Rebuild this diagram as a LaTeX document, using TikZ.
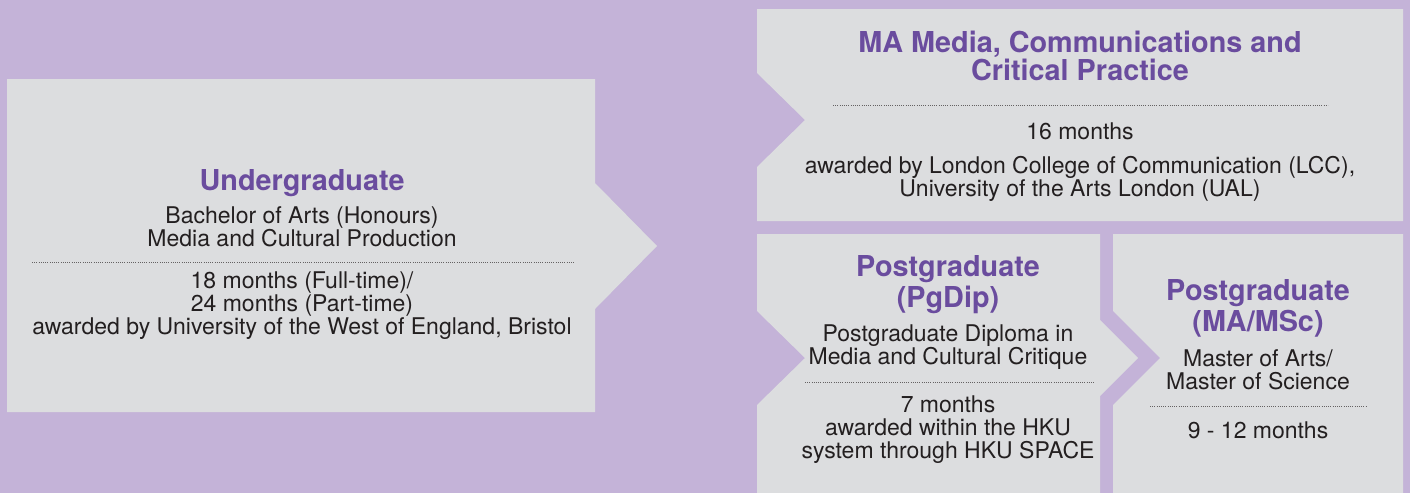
\documentclass[tikz,border=0pt]{standalone}
\usepackage{fontspec}
\setmainfont{TeX Gyre Heros}
\usepackage{tikz}
\usetikzlibrary{positioning}

\definecolor{bgpurple}{HTML}{C4B3D8}
\definecolor{boxgray}{HTML}{DCDDDF}
\definecolor{headpurple}{HTML}{6A4C9E}
\definecolor{textdark}{HTML}{231F20}

\begin{document}
\begin{tikzpicture}[x=0.5pt, y=-0.5pt]
			% Define style
			\tikzset{
				panel/.style={fill=boxgray, draw=none},
				heading/.style={font=\bfseries\fontsize{14.4}{15.5}\selectfont, text=headpurple, align=center, inner sep=0pt},
				body/.style={font=\fontsize{11.5}{11.5}\selectfont, text=textdark, align=center, inner sep=0pt},
				dotline/.style={line width=0.5pt, dash pattern=on 0.5pt off 0.6pt, draw=textdark!70}
			}
			
			% Define background
			\fill [bgpurple] (0,0) rectangle (1410,493);
			\useasboundingbox (0,0) rectangle (1410,493);
			
			% Define panels
			\fill [panel] (7,79) -- (595,79) -- (595,183) -- (657,246) -- (595,309) -- (595,412) -- (7,412) -- cycle;
			\fill [panel] (757,9) -- (1403,9) -- (1403,221) -- (757,221) -- (757,167) -- (805,120) -- (757,73) -- cycle;
			\fill [panel] (757,234) -- (1100,234) -- (1100,320) -- (1138,358) -- (1100,396) -- (1100,493) -- (757,493) -- (757,405) -- (805,358) -- (757,311) -- cycle;
			\fill [panel] (1113,234) -- (1403,234) -- (1403,493) -- (1113,493) -- (1113,405) -- (1160,358) -- (1113,311) -- cycle;
			
			% Define blocks
			\node (ugtitle) [heading] at (302,183) {Undergraduate};
			\node (ugdesc) [body] at (302,227) {Bachelor of Arts (Honours)\\Media and Cultural Production};
			\node (ugtime) [body] at (302,306) {18 months (Full-time)/\\24 months (Part-time)\\awarded by University of the West of England, Bristol};
			
			\node (matitle) [heading, font=\bfseries\fontsize{14.4}{13.8}\selectfont] at (1080,56) {MA Media, Communications and\\Critical Practice};
			\node (matime) [body] at (1080,131) {16 months};
			\node (maaward) [body] at (1080,179) {awarded by London College of Communication (LCC),\\University of the Arts London (UAL)};
			
			\node (pgtitle) [heading] at (948,285) {Postgraduate\\(PgDip)};
			\node (pgdesc) [body] at (948,347) {Postgraduate Diploma in\\Media and Cultural Critique};
			\node (pgtime) [body] at (948,430) {7 months\\awarded within the HKU\\system through HKU SPACE};
			
			\node (mstitle) [heading] at (1258,308) {Postgraduate\\(MA/MSc)};
			\node (msdesc) [body] at (1258,370) {Master of Arts/\\Master of Science};
			\node (mstime) [body] at (1258,430) {9 - 12 months};
			
			% Define lines
			\draw [dotline] (32,262) -- (575,262);
			\draw [dotline] (833,105) -- (1328,105);
			\draw [dotline] (805,382) -- (1094,382);
			\draw [dotline] (1150,406) -- (1367,406);
		\end{tikzpicture}
\end{document}
